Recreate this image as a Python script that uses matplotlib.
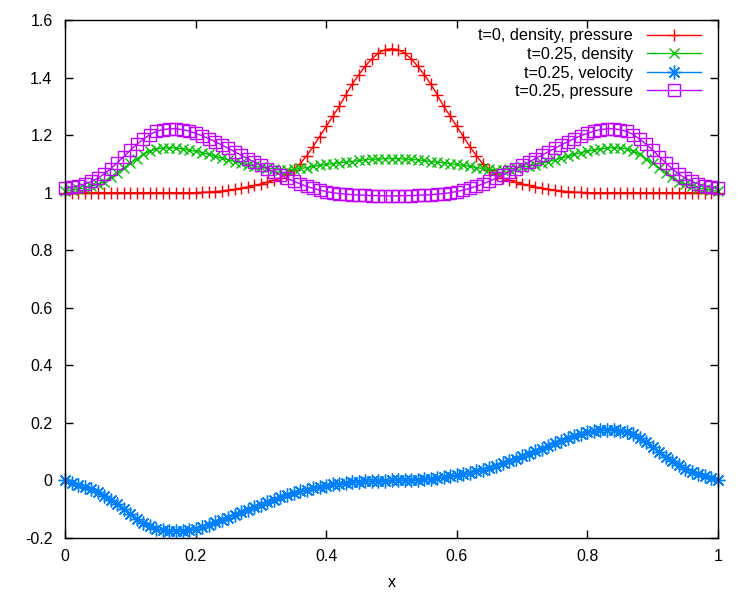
import matplotlib
matplotlib.use('Agg')
import matplotlib.pyplot as plt
import numpy as np

plt.rcParams['font.family'] = ['Liberation Sans', 'DejaVu Sans']

# x grid, 101 points from 0 to 1
x = np.linspace(0.0, 1.0, 101)

rho0 = [1.000, 1.000, 1.000, 1.000, 1.000, 1.000, 1.000, 1.000, 1.000, 1.000,
        1.000, 1.000, 1.000, 1.000, 1.000, 1.000, 1.000, 1.000, 1.000, 1.000,
        1.000, 1.001, 1.002, 1.004, 1.006, 1.009, 1.012, 1.016, 1.020, 1.025,
        1.030, 1.036, 1.043, 1.052, 1.064, 1.080, 1.100, 1.128, 1.160, 1.195,
        1.230, 1.265, 1.300, 1.340, 1.378, 1.410, 1.440, 1.465, 1.485, 1.497,
        1.500,
        1.497, 1.485, 1.465, 1.440, 1.410, 1.378, 1.340, 1.300, 1.265, 1.230,
        1.195, 1.160, 1.128, 1.100, 1.080, 1.064, 1.052, 1.043, 1.036, 1.030,
        1.025, 1.020, 1.016, 1.012, 1.009, 1.006, 1.004, 1.002, 1.001, 1.000,
        1.000, 1.000, 1.000, 1.000, 1.000, 1.000, 1.000, 1.000, 1.000, 1.000,
        1.000, 1.000, 1.000, 1.000, 1.000, 1.000, 1.000, 1.000, 1.000, 1.000]

rho = [1.005, 1.008, 1.012, 1.017, 1.022, 1.029, 1.038, 1.054, 1.070, 1.086,
       1.102, 1.118, 1.133, 1.145, 1.152, 1.155, 1.156, 1.155, 1.152, 1.148,
       1.144, 1.139, 1.133, 1.127, 1.120, 1.114, 1.108, 1.102, 1.097, 1.092,
       1.088, 1.085, 1.082, 1.080, 1.080, 1.081, 1.084, 1.087, 1.091, 1.095,
       1.098, 1.101, 1.104, 1.106, 1.108, 1.112, 1.114, 1.116, 1.117, 1.118,
       1.118,
       1.118, 1.117, 1.116, 1.114, 1.112, 1.108, 1.106, 1.104, 1.101, 1.098,
       1.095, 1.091, 1.087, 1.084, 1.081, 1.080, 1.080, 1.082, 1.085, 1.088,
       1.092, 1.097, 1.102, 1.108, 1.114, 1.120, 1.127, 1.133, 1.139, 1.144,
       1.148, 1.152, 1.155, 1.156, 1.155, 1.152, 1.145, 1.133, 1.118, 1.102,
       1.086, 1.070, 1.054, 1.038, 1.029, 1.022, 1.017, 1.012, 1.008, 1.005]

vel = [0.000, -0.008, -0.015, -0.022, -0.030, -0.041, -0.053, -0.067, -0.083, -0.099,
       -0.116, -0.133, -0.148, -0.160, -0.168, -0.173, -0.175, -0.176, -0.175, -0.172,
       -0.167, -0.161, -0.154, -0.146, -0.138, -0.129, -0.120, -0.111, -0.102, -0.093,
       -0.084, -0.076, -0.067, -0.059, -0.051, -0.044, -0.038, -0.032, -0.027, -0.022,
       -0.018, -0.014, -0.011, -0.008, -0.006, -0.004, -0.003, -0.002, -0.001, -0.0005,
       0.000,
       0.0005, 0.001, 0.002, 0.003, 0.004, 0.006, 0.008, 0.011, 0.014, 0.018,
       0.022, 0.027, 0.032, 0.038, 0.044, 0.051, 0.059, 0.067, 0.076, 0.084,
       0.093, 0.102, 0.111, 0.120, 0.129, 0.138, 0.146, 0.154, 0.161, 0.167,
       0.172, 0.175, 0.176, 0.175, 0.173, 0.168, 0.160, 0.148, 0.133, 0.116,
       0.099, 0.083, 0.067, 0.053, 0.041, 0.030, 0.022, 0.015, 0.008, 0.000]

pres = [1.017, 1.019, 1.024, 1.030, 1.039, 1.050, 1.065, 1.083, 1.104, 1.125,
        1.148, 1.168, 1.186, 1.202, 1.213, 1.219, 1.222, 1.222, 1.219, 1.214,
        1.206, 1.198, 1.188, 1.177, 1.166, 1.154, 1.142, 1.130, 1.118, 1.106,
        1.095, 1.083, 1.072, 1.061, 1.050, 1.040, 1.031, 1.022, 1.015, 1.009,
        1.004, 1.000, 0.997, 0.995, 0.993, 0.992, 0.991, 0.990, 0.990, 0.989,
        0.989,
        0.989, 0.990, 0.990, 0.991, 0.992, 0.993, 0.995, 0.997, 1.000, 1.004,
        1.009, 1.015, 1.022, 1.031, 1.040, 1.050, 1.061, 1.072, 1.083, 1.095,
        1.106, 1.118, 1.130, 1.142, 1.154, 1.166, 1.177, 1.188, 1.198, 1.206,
        1.214, 1.219, 1.222, 1.222, 1.219, 1.213, 1.202, 1.186, 1.168, 1.148,
        1.125, 1.104, 1.083, 1.065, 1.050, 1.039, 1.030, 1.024, 1.019, 1.017]

labels = ['t=0, density, pressure', 't=0.25, density',
          't=0.25, velocity', 't=0.25, pressure']

fig = plt.figure(figsize=(7.5, 6), dpi=100)
ax = fig.add_axes([65/750, 1-538/600, 653/750, 518/600])

ax.plot(x, rho0, color='#ff0000', lw=1, marker='+', ms=9, mew=1, clip_on=False, label=labels[0])
ax.plot(x, rho, color='#00c000', lw=1, marker='x', ms=7.5, mew=1, clip_on=False, label=labels[1])
ax.plot(x, vel, color='#0080ff', lw=1, marker=(8, 2, 0), ms=10, mew=1, clip_on=False, label=labels[2])
ax.plot(x, pres, color='#c000ff', lw=1, marker='s', ms=8, mew=1, mfc='none', clip_on=False, label=labels[3])

ax.set_xlim(0, 1)
ax.set_ylim(-0.2, 1.6)
ax.set_xticks(np.arange(0, 1.01, 0.2))
ax.set_yticks(np.arange(-0.2, 1.61, 0.2))
ax.xaxis.set_major_formatter(plt.FuncFormatter(lambda v, p: '%g' % round(v, 2)))
ax.yaxis.set_major_formatter(plt.FuncFormatter(lambda v, p: '%g' % round(v, 2)))
ax.tick_params(direction='in', length=6, width=1, top=True, right=True, labelsize=11.5, colors='black')
ax.tick_params(axis='y', pad=9)
ax.tick_params(axis='x', pad=8)
for s in ax.spines.values():
    s.set_linewidth(1)
ax.set_xlabel('x', fontsize=11.5, labelpad=8)

leg = ax.legend(loc='upper right', bbox_to_anchor=(0.987, 1.0), frameon=False, markerfirst=False,
                numpoints=1, handlelength=3.3, handletextpad=0.9, labelspacing=0.22,
                borderaxespad=0.12, fontsize=11.7)

fig.savefig('out.png', dpi=100)
